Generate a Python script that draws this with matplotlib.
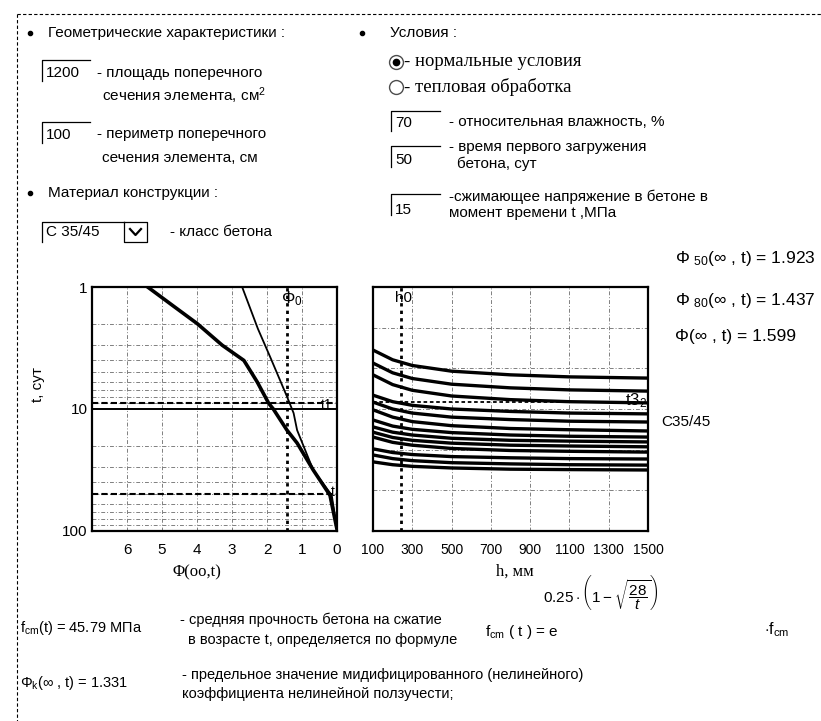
import matplotlib
matplotlib.use("Agg")
import matplotlib.pyplot as plt
from matplotlib.ticker import LogLocator, NullFormatter

plt.rcParams['font.family'] = ['Liberation Sans', 'DejaVu Sans']
plt.rcParams['mathtext.fontset'] = 'custom'
plt.rcParams['mathtext.rm'] = 'Liberation Sans'
plt.rcParams['mathtext.it'] = 'Liberation Sans:italic'

# left nomogram: phi(oo,t) against age t (days)
phi_thick = [5.41, 4.65, 3.99, 3.28, 2.66, 2.28, 1.95, 1.82, 1.43, 1.14, 0.68, 0.20, 0.0]
t_thick = [1, 1.45, 2.0, 3.0, 4.0, 6.0, 9.0, 10, 14.9, 19, 31.6, 51, 97]
phi_thin = [2.71, 2.26, 1.90, 1.43, 1.24, 1.14, 0.68, 0.15, 0.0]
t_thin = [1, 2.2, 3.8, 7.9, 10.8, 14.9, 31.6, 51, 97]
phi_0 = 1.437
t_1 = 9
t_load = 50

# right nomogram: curves against notional size h (mm)
h_mm = [100, 200, 300, 500, 800, 1100, 1500]
h_curves = [
    [4.45, 4.21, 4.07, 3.93, 3.84, 3.79, 3.76],
    [4.13, 3.89, 3.75, 3.61, 3.52, 3.47, 3.44],
    [3.84, 3.60, 3.46, 3.32, 3.23, 3.18, 3.15],
    [3.34, 3.18, 3.09, 3.00, 2.94, 2.90, 2.88],
    [3.17, 3.00, 2.90, 2.80, 2.74, 2.70, 2.68],
    [2.98, 2.80, 2.69, 2.59, 2.52, 2.49, 2.46],
    [2.73, 2.58, 2.50, 2.42, 2.36, 2.33, 2.31],
    [2.56, 2.43, 2.36, 2.28, 2.23, 2.21, 2.19],
    [2.43, 2.30, 2.23, 2.16, 2.11, 2.09, 2.07],
    [2.31, 2.18, 2.11, 2.03, 1.98, 1.96, 1.94],
    [2.02, 1.93, 1.88, 1.83, 1.80, 1.78, 1.77],
    [1.87, 1.78, 1.73, 1.68, 1.65, 1.63, 1.62],
    [1.70, 1.63, 1.59, 1.55, 1.52, 1.51, 1.50],
]
h_ticks = [100, 300, 500, 700, 900, 1100, 1300, 1500]
h_0 = 240
t3_level = 3.18

W, H = 821, 721
fig = plt.figure(figsize=(W / 100, H / 100), dpi=100)

# page layer in pixel coordinates
bg = fig.add_axes([0, 0, 1, 1])
bg.set_xlim(0, W)
bg.set_ylim(H, 0)
bg.axis('off')

def txt(x, y, s, size=11, **kw):
    kw.setdefault('va', 'center')
    bg.text(x, y, s, fontsize=size, **kw)

def field(x, y, w, h):
    bg.plot([x, x, x + w], [y + h, y, y], color='k', lw=0.9)

dash = (0, (3, 2))
bg.plot([17, W], [14, 14], color='k', lw=0.8, ls=dash)
bg.plot([17, 17], [14, H], color='k', lw=0.8, ls=dash)

for bx, by in [(30, 33), (362, 33), (30, 193)]:
    bg.plot(bx, by, 'o', ms=3, color='k')

txt(48, 33, 'Геометрические характеристики :')
txt(390, 33, 'Условия :')

field(42, 60, 48, 21)
txt(46, 73, '1200')
txt(97, 73, '- площадь поперечного')
txt(102, 96, 'сечения элемента, см$^2$')
field(42, 122, 48, 21)
txt(46, 135, '100')
txt(97, 134, '- периметр поперечного')
txt(102, 158, 'сечения элемента, см')

txt(48, 193, 'Материал конструкции :')
field(42, 222, 82, 20)
txt(46, 232, 'С 35/45')
bg.plot([124, 147, 147, 124, 124], [222, 222, 242, 242, 222], color='k', lw=0.9)
bg.plot([130, 135.5, 141], [229, 235, 229], color='k', lw=1.6)
txt(170, 232, '- класс бетона')

bg.plot(396, 62, 'o', ms=10, mfc='white', mec='0.3', mew=1)
bg.plot(396, 62, 'o', ms=4.5, color='k')
bg.plot(396, 87, 'o', ms=10, mfc='white', mec='0.3', mew=1)
txt(404, 62, '- нормальные условия', size=13.5, family='Liberation Serif')
txt(404, 87, '- тепловая обработка', size=13.5, family='Liberation Serif')

field(391, 111, 49, 20)
txt(395, 123, '70')
txt(449, 122, '- относительная влажность, %')
field(391, 146, 49, 21)
txt(395, 160, '50')
txt(449, 147, '- время первого загружения')
txt(457, 164, 'бетона, сут')
field(391, 194, 49, 21)
txt(395, 210, '15')
txt(449, 197, '-сжимающее напряжение в бетоне в')
txt(449, 213, 'момент времени t ,МПа')

# left chart
ax1 = fig.add_axes([92 / W, 1 - 531 / H, 245 / W, 244 / H])
ax1.set_yscale('log')
ax1.set_xlim(7, 0)
ax1.set_ylim(100, 1)
ax1.set_xticks([6, 5, 4, 3, 2, 1, 0])
ax1.set_xticklabels(['6', '5', '4', '3', '2', '1', '0'])
ax1.set_yticks([1, 10, 100])
ax1.set_yticklabels(['1', '10', '100'])
ax1.yaxis.set_minor_locator(LogLocator(subs=range(2, 10)))
ax1.yaxis.set_minor_formatter(NullFormatter())
ax1.grid(axis='x', which='major', color='0.5', lw=0.7, ls=(0, (4, 2, 1, 2)))
ax1.grid(axis='y', which='minor', color='0.5', lw=0.7, ls=(0, (4, 2, 1, 2)))
ax1.axhline(10, color='k', lw=1.4)
ax1.plot(phi_thick, t_thick, color='k', lw=2.6)
ax1.plot(phi_thin, t_thin, color='k', lw=1.3)
ax1.axvline(phi_0, color='k', lw=2, ls=(0, (1.2, 1.5)))
ax1.axhline(t_1, color='k', lw=1.5, ls=(0, (3, 1.5)))
ax1.axhline(t_load, color='k', lw=1.5, ls=(0, (3, 1.5)))
ax1.text(1.6, 1.25, 'Φ$_0$', fontsize=12, va='center', ha='left')
ax1.text(0.45, 9.2, 't1', fontsize=10, va='center', ha='left')
ax1.text(0.18, 48, 't', fontsize=10, va='center', ha='left')
ax1.tick_params(which='both', length=0, labelsize=11)
ax1.tick_params(axis='x', pad=9)
ax1.tick_params(axis='y', pad=3)
for s in ax1.spines.values():
    s.set_linewidth(1.6)

# right chart
ax2 = fig.add_axes([373 / W, 1 - 531 / H, 275 / W, 244 / H])
ax2.set_xlim(100, 1500)
ax2.set_ylim(0, 6)
ax2.set_xticks(h_ticks)
ax2.set_xticklabels([str(v) for v in h_ticks])
ax2.set_yticks([1, 2, 3, 4, 5])
ax2.set_yticklabels([])
ax2.grid(color='0.5', lw=0.7, ls=(0, (4, 2, 1, 2)))
for ys in h_curves:
    ax2.plot(h_mm, ys, color='k', lw=2.4)
ax2.axvline(h_0, color='k', lw=2, ls=(0, (1.2, 1.5)))
ax2.axhline(t3_level, xmax=0.97, color='k', lw=1.3, ls=(0, (2, 1.5)))
ax2.text(212, 5.73, 'h0', fontsize=11, va='center', ha='left')
ax2.text(1385, 3.2, 't3$_2$', fontsize=12, va='center', ha='left')
ax2.tick_params(length=0, labelsize=10)
ax2.tick_params(axis='x', pad=9)
for s in ax2.spines.values():
    s.set_linewidth(1.6)

txt(675, 258, 'Φ $_{\\mathrm{50}}$(∞ , t) = 1.923', size=12.5)
txt(675, 300, 'Φ $_{\\mathrm{80}}$(∞ , t) = 1.437', size=12.5)
txt(675, 336, 'Φ(∞ , t) = 1.599', size=12.5)
txt(661, 422, 'C35/45', size=11)

txt(38, 385, 't, сут', size=11, rotation=90, ha='center')
txt(197, 572, 'Φ(oo,t)', size=12, ha='center', family='Liberation Serif')
txt(515, 572, 'h, мм', size=12, ha='center', family='Liberation Serif')

txt(20, 628, 'f$_{\\mathrm{cm}}$(t) = 45.79 МПа', size=10.5)
txt(180, 620, '- средняя прочность бетона на сжатие', size=10.5)
txt(188, 640, 'в возрасте t, определяется по формуле', size=10.5)
txt(485, 632, 'f$_{\\mathrm{cm}}$ ( t ) = e', size=11)
txt(543, 592, '$0.25\\cdot\\left(1-\\sqrt{\\dfrac{28}{t}}\\right)$', size=11)
txt(764, 630, '$\\cdot$f$_{\\mathrm{cm}}$', size=11.5)

txt(20, 683, 'Φ$_{\\mathrm{k}}$(∞ , t) = 1.331', size=10.5)
txt(182, 675, '- предельное значение мидифицированного (нелинейного)', size=10.5)
txt(182, 694, 'коэффициента нелинейной ползучести;', size=10.5)

fig.savefig('out.png', dpi=100)
